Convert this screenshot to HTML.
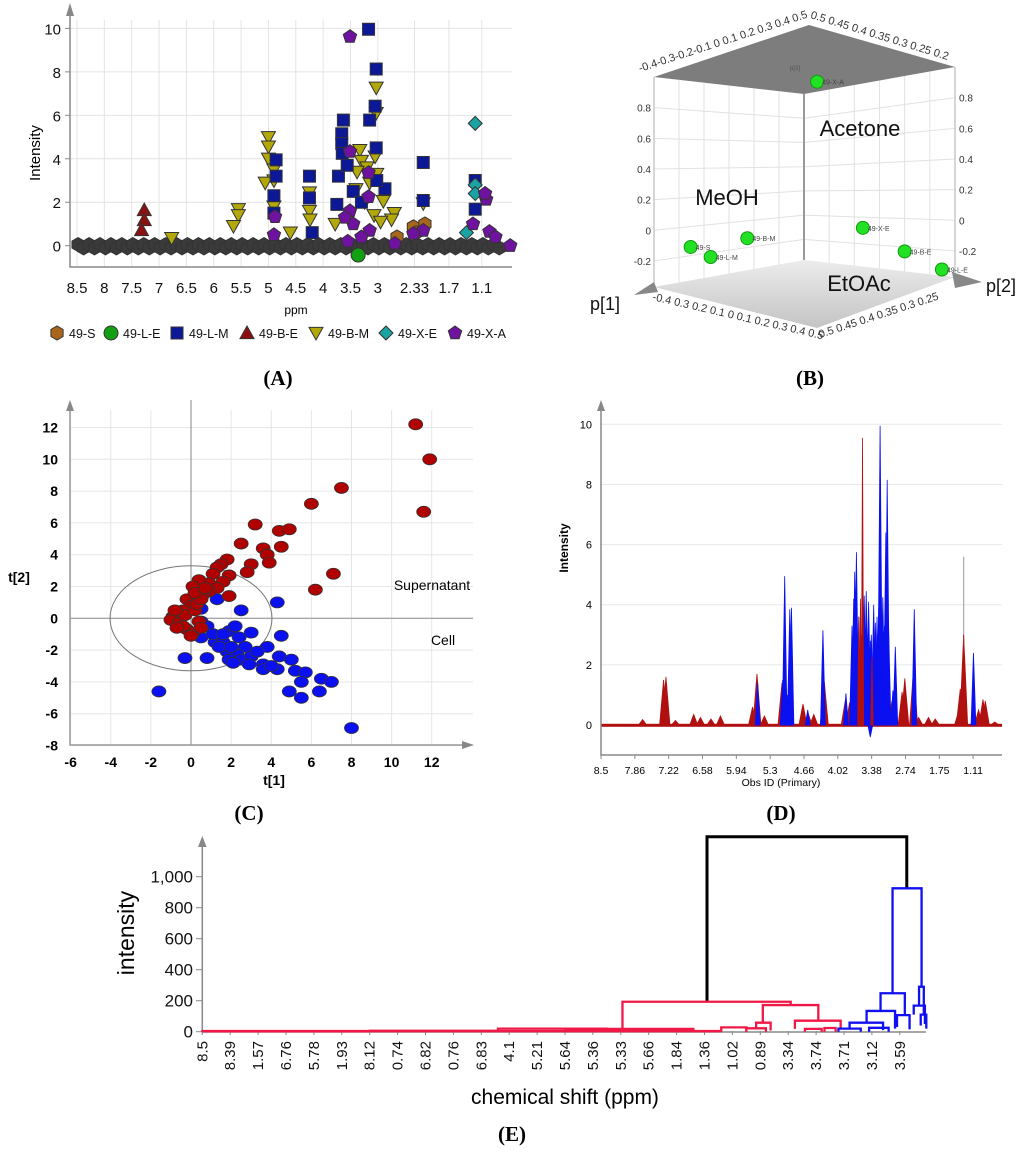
<!DOCTYPE html>
<html><head><meta charset="utf-8"><style>
html,body{margin:0;padding:0;background:#fff;}
svg{display:block;font-family:"Liberation Sans","DejaVu Sans",sans-serif;}
.lbl{font-family:"Liberation Serif",serif;font-weight:bold;font-size:21px;}
</style></head><body>
<svg id="fig" width="1024" height="1149" viewBox="0 0 1024 1149" xmlns="http://www.w3.org/2000/svg">
<g id="pa"></g>
<g id="pb"></g>
<g id="pc"></g>
<g id="pd"></g>
<g id="pe"></g>
<text class="lbl" x="278" y="385" text-anchor="middle">(A)</text>
<text class="lbl" x="810" y="385" text-anchor="middle">(B)</text>
<text class="lbl" x="249" y="820" text-anchor="middle">(C)</text>
<text class="lbl" x="781" y="820" text-anchor="middle">(D)</text>
<text class="lbl" x="512" y="1141" text-anchor="middle">(E)</text>
</svg>
<script>
// ===== Panel A data =====
const aTickLabels=['8.5','8','7.5','7','6.5','6','5.5','5','4.5','4','3.5','3','2.33','1.7','1.1'];
const aYTicks=[0,2,4,6,8,10];
const aBasePpm=[8.48,8.38,8.28,8.18,8.08,7.98,7.88,7.78,7.68,7.58,7.48,7.38,7.28,7.18,7.08,6.98,6.88,6.78,6.68,6.58,6.48,6.38,6.28,6.18,6.08,5.98,5.88,5.78,5.68,5.58,5.48,5.38,5.28,5.18,5.08,4.98,4.88,4.78,4.68,4.58,4.48,4.38,4.28,4.18,4.08,3.98,3.88,3.78,3.68,3.58,3.48,3.38,3.28,3.18,3.08,2.98,2.88,2.78,2.68,2.58,2.48,2.38,2.28,2.18,2.08,1.98,1.88,1.78,1.68,1.58,1.48,1.38,1.28,1.18,1.08,0.98,0.88,0.78,0.68,0.6];
const aBaseInt=[0.05,-0.1,0.05,-0.1,0.05,-0.1,0.05,-0.1,0.05,-0.1,0.05,-0.1,0.05,-0.1,0.05,-0.1,0.05,-0.1,0.05,-0.1,0.05,-0.1,0.05,-0.1,0.05,-0.1,0.05,-0.1,0.05,-0.1,0.05,-0.1,0.05,-0.1,0.05,-0.1,0.05,-0.1,0.05,-0.1,0.05,-0.1,0.05,-0.1,0.05,-0.1,0.05,-0.1,0.05,-0.1,0.05,-0.1,0.05,-0.1,0.05,-0.1,0.05,-0.1,0.05,-0.1,0.05,-0.1,0.05,-0.1,0.05,-0.1,0.05,-0.1,0.05,-0.1,0.05,-0.1,0.05,-0.1,0.05,-0.1,0.05,-0.1];
const aS=[[2.35,0.87],[2.14,1.0],[2.65,0.4],[2.3,0.6]];
const aLE=[[3.36,-0.43]];
const aLM=[[3.17,9.96],[3.03,8.13],[3.05,6.42],[3.15,5.78],[3.63,5.78],[3.66,5.15],[3.66,4.7],[3.65,4.25],[3.03,4.5],[2.17,3.83],[2.17,2.08],[4.25,3.2],[4.25,2.2],[4.86,3.95],[4.86,3.2],[4.9,2.3],[1.22,3.0],[1.22,1.68],[2.87,2.62],[3.72,3.2],[3.75,1.9],[3.56,3.7],[3.02,3.0],[3.45,2.5],[3.3,2.0],[4.9,1.5],[4.2,0.6]];
const aBE=[[7.27,1.64],[7.27,1.18],[7.32,0.72]];
const aBM=[[5.0,4.99],[5.0,4.56],[5.0,4.0],[4.9,3.5],[4.9,3.0],[5.06,2.9],[3.03,7.27],[3.03,6.1],[3.05,4.1],[3.33,4.4],[3.3,3.9],[3.2,3.6],[3.38,3.4],[3.15,2.9],[3.02,3.3],[2.9,2.05],[2.7,1.5],[2.75,1.2],[2.17,1.95],[4.25,2.45],[4.25,1.6],[4.24,1.2],[5.55,1.68],[5.55,1.4],[5.64,0.9],[4.9,1.8],[3.78,1.0],[3.24,2.0],[3.07,1.4],[6.77,0.35],[4.6,0.6],[3.4,2.6],[2.95,1.1]];
const aXE=[[1.22,5.63],[1.22,2.8],[1.22,2.4],[1.38,0.6]];
const aXA=[[3.51,9.62],[3.51,4.33],[3.17,3.36],[3.17,2.25],[4.88,1.33],[1.02,2.13],[1.04,2.4],[2.69,0.1],[0.58,0.0],[3.51,1.6],[3.45,1.0],[3.15,0.7],[2.17,0.7],[2.35,0.55],[1.26,1.0],[0.96,0.65],[0.85,0.4],[4.9,0.5],[3.55,0.2],[3.6,1.3],[3.3,0.4]];
// ===== Panel B data =====
const bNames=['49-X-A','49-S','49-L-M','49-B-M','49-X-E','49-B-E','49-L-E'];
const bFace=['R','L','L','L','R','R','R'];
const bP1=[0.5,-0.18,-0.06,0.16,0.5,0.5,0.5];
const bP2=[0.474,0.5,0.5,0.5,0.383,0.30,0.226];
const bP3=[1.08,-0.14,-0.23,-0.13,-0.08,-0.23,-0.33];
// ===== Panel C data =====
const cXTicks=[-6,-4,-2,0,2,4,6,8,10,12];
const cYTicks=[-8,-6,-4,-2,0,2,4,6,8,10,12];
const cBlueX=[-1.6,-0.3,0.8,0.5,0.5,0.5,1.3,2.5,4.3,4.5,0.8,1.2,1.6,1.9,2.2,3.0,2.4,2.7,3.8,1.8,2.3,1.9,2.5,3.0,2.9,3.6,4.4,5.0,3.6,4.3,5.2,5.7,6.5,7.0,5.5,4.9,6.4,5.5,8.0,1.4,2.0,1.1,3.3,4.0,1.6,2.1];
const cBlueY=[-4.6,-2.5,-2.5,-1.2,-0.2,0.6,1.2,0.5,1.0,-1.1,-0.5,-1.5,-1.5,-0.8,-0.5,-0.9,-1.2,-1.8,-1.8,-2.1,-2.3,-2.6,-2.6,-2.4,-2.9,-2.9,-2.4,-2.6,-3.2,-3.2,-3.3,-3.4,-3.8,-4.0,-4.0,-4.6,-4.6,-5.0,-6.9,-1.8,-1.8,-1.0,-2.1,-3.0,-1.0,-2.8];
const cRedX=[11.2,11.9,11.6,7.5,6.0,3.2,4.4,4.9,2.5,3.6,4.5,3.8,3.9,3.0,2.8,7.1,6.2,1.8,1.5,1.3,1.1,1.9,1.6,0.9,0.4,0.1,1.3,0.9,1.9,0.6,-0.2,0.0,-0.4,-0.7,-0.9,-1.0,-0.6,-0.3,0.2,0.4,-0.2,0.1,0.5,-0.4,0.3,0.5,-0.7,0.0,-0.8,0.2,0.7];
const cRedY=[12.2,10.0,6.7,8.2,7.2,5.9,5.5,5.6,4.7,4.4,4.5,4.0,3.5,3.4,2.9,2.8,1.8,3.7,3.4,3.2,2.8,2.7,2.3,2.2,2.4,2.0,1.9,1.7,1.4,1.5,1.2,0.8,0.5,0.3,0.1,-0.1,-0.3,0.2,0.5,-0.2,-0.7,-0.9,-0.6,-0.5,0.9,1.2,-0.6,-1.1,0.5,1.6,1.9];
// ===== Panel D data =====
const dTickLabels=['8.5','7.86','7.22','6.58','5.94','5.3','4.66','4.02','3.38','2.74','1.75','1.11'];
const dYTicks=[0,2,4,6,8,10];
const dRedPos=[1.23,1.85,1.92,2.2,2.74,2.94,3.25,3.53,4.48,4.61,4.83,5.35,5.97,6.12,6.29,6.6,7.22,7.35,8.6,8.98,8.9,9.24,9.39,9.68,9.88,10.57,10.72,10.62,11.16,11.29,11.36,11.64];
const dRedVal=[0.18,1.5,1.6,0.15,0.35,0.25,0.2,0.3,0.6,1.7,0.3,1.4,0.7,0.4,0.35,1.45,0.8,0.75,0.8,1.55,1.1,1.9,0.25,0.25,0.2,0.45,3.0,1.2,0.5,0.85,0.8,0.1];
const dRedTopPos=[7.62,7.67,7.73,8.01];
const dRedTopVal=[3.6,4.2,9.55,2.25];
const dGrayPos=[10.72];
const dGrayVal=[5.6];
const dBluePos=[4.63,5.37,5.43,5.5,5.58,5.63,6.11,6.56,7.24,7.42,7.47,7.5,7.55,7.57,7.62,7.7,7.78,7.81,7.84,7.91,7.96,7.99,8.06,8.11,8.16,8.18,8.21,8.25,8.28,8.33,8.35,8.38,8.42,8.46,8.5,8.63,8.7,9.26,11.01,7.96];
const dBlueVal=[1.4,1.5,4.95,1.0,3.85,3.9,0.5,3.15,1.05,3.3,4.2,5.1,5.75,3.0,3.6,3.0,4.3,3.2,4.45,4.1,2.8,3.0,4.0,3.4,3.6,3.0,3.9,9.95,3.5,4.25,3.1,3.3,6.4,8.15,3.3,1.15,2.6,3.85,2.4,-0.4];
// ===== Panel E data =====
const eTickLabels=['8.5','8.39','1.57','6.76','5.78','1.93','8.12','0.74','6.82','0.76','6.83','4.1','5.21','5.64','5.36','5.33','5.66','1.84','1.36','1.02','0.89','3.34','3.74','3.71','3.12','3.59'];
const eYTicks=[0,200,400,600,800,1000];
const eLinkL=[18.09,15.06,20.09,19.85,21.24,0,6.0,10.6,13.0,18.6,19.5,21.6,22.3,24.74,24.31,23.81,23.2,25.69,25.5,24.9,22.8,23.9,25.75];
const eLinkR=[25.25,21.09,22.08,20.37,22.88,6.0,10.6,14.5,17.6,19.5,20.2,22.2,22.7,25.78,25.18,24.83,24.4,25.86,25.9,25.35,23.6,24.6,25.95];
const eLinkH=[1258,193,172,58,71,3,6,20,18,28,22,18,24,925,248,134,58,290,168,107,20,25,110];
const eLinkHL=[193,12,58,20,18,0,3,6,8,0,0,0,0,248,134,58,20,168,110,30,0,0,40];
const eLinkHR=[925,172,71,8,20,0,3,6,8,0,0,0,0,290,107,20,10,110,50,15,0,0,20];
const eLinkC=['k','r','r','r','r','r','r','r','r','r','r','r','r','b','b','b','b','b','b','b','b','b','b'];

const NS='http://www.w3.org/2000/svg';
function mk(tag,attrs,parent){const e=document.createElementNS(NS,tag);for(const k in attrs)e.setAttribute(k,attrs[k]);parent.appendChild(e);return e;}
function txt(str,attrs,parent){const e=mk('text',attrs,parent);e.textContent=str;return e;}

// ================= PANEL A =================
(function(){
const g=document.getElementById('pa');
const xA=p=>77+(8.5-p)*54.7, yA=v=>245.7-v*21.73;
aTickLabels.forEach(l=>{const x=xA(parseFloat(l));
 const gl=mk('line',{x1:x,y1:20,x2:x,y2:266,stroke:'#e4e4e4','stroke-width':1},g);
 
 
 const t=txt(l,{x:x,y:293,'font-size':15,'text-anchor':'middle',fill:'#111'},g);
 
 
});
aYTicks.forEach(v=>{const y=yA(v);
 const gl=mk('line',{x1:70,y1:y,x2:512,y2:y,stroke:'#e4e4e4','stroke-width':1},g);
 
 
 const t=txt(String(v),{x:61,y:y+6,'font-size':15,'text-anchor':'end',fill:'#111'},g);
 
 
 const tk=mk('line',{x1:65,y1:y,x2:70,y2:y,stroke:'#888'},g);
 
 
});
const ax=mk('path',{d:'M70 12 V267 H512',fill:'none',stroke:'#888','stroke-width':1.5},g);


const ar=mk('path',{d:'M66 16 L70 3 L74 16 Z',fill:'#888'},g);


const yt=txt('Intensity',{x:0,y:0,'font-size':15,'text-anchor':'middle',transform:'translate(40,153) rotate(-90)'},g);


const xt=txt('ppm',{x:296,y:314,'font-size':12,'text-anchor':'middle'},g);


function shape(type,cx,cy,s,fill,parent){
 let e;const r=s/2;
 if(type==='hex'){let pts=[];for(let i=0;i<6;i++){const a=Math.PI/3*i+Math.PI/6;pts.push((cx+r*Math.cos(a)).toFixed(1)+','+(cy+r*Math.sin(a)).toFixed(1));}e=mk('polygon',{points:pts.join(' ')},parent);}
 else if(type==='circle'){e=mk('circle',{cx:cx,cy:cy,r:r},parent);}
 else if(type==='square'){e=mk('rect',{x:cx-r,y:cy-r,width:s,height:s},parent);}
 else if(type==='tri'){e=mk('polygon',{points:`${cx},${cy-r} ${cx+r},${cy+r*0.8} ${cx-r},${cy+r*0.8}`},parent);}
 else if(type==='itri'){e=mk('polygon',{points:`${cx-r},${cy-r*0.8} ${cx+r},${cy-r*0.8} ${cx},${cy+r}`},parent);}
 else if(type==='diam'){e=mk('polygon',{points:`${cx},${cy-r} ${cx+r},${cy} ${cx},${cy+r} ${cx-r},${cy}`},parent);}
 else {let pts=[];for(let i=0;i<5;i++){const a=-Math.PI/2+2*Math.PI/5*i;pts.push((cx+r*Math.cos(a)).toFixed(1)+','+(cy+r*Math.sin(a)).toFixed(1));}e=mk('polygon',{points:pts.join(' ')},parent);}
 e.setAttribute('fill',fill);e.setAttribute('stroke','#333');e.setAttribute('stroke-width',1);
 return e;
}
aBasePpm.forEach((p,i)=>{const m=shape('hex',xA(p),yA(aBaseInt[i]),14,'#3a3a3a',g);
 
 });
const series=[['49-S',aS,'hex','#a8661c'],['49-L-E',aLE,'circle','#12a012'],['49-B-E',aBE,'tri','#8b1010'],['49-B-M',aBM,'itri','#b3a80a'],['49-L-M',aLM,'square','#0c1896'],['49-X-E',aXE,'diam','#1aa3a3'],['49-X-A',aXA,'pent','#7012a0']];
series.forEach(s=>{s[1].forEach(d=>{const m=shape(s[2],xA(d[0]),yA(d[1]),s[2]==='square'?12:14,s[3],g);
 
 });});
const legOrder=[['49-S','hex','#a8661c',57],['49-L-E','circle','#12a012',111],['49-L-M','square','#0c1896',177],['49-B-E','tri','#8b1010',247],['49-B-M','itri','#b3a80a',316],['49-X-E','diam','#1aa3a3',386],['49-X-A','pent','#7012a0',455]];
legOrder.forEach(l=>{const m=shape(l[1],l[3],333,l[1]==='square'?12:14,l[2],g);
 
 
 const t=txt(l[0],{x:l[3]+12,y:338,'font-size':12.5,fill:'#111'},g);
 
 });
})();

// ================= PANEL B =================
(function(){
const g=document.getElementById('pb');
const top=mk('polygon',{points:'654,77 809,25 955,67 804,94',fill:'#7d7d7d'},g);


const defs=mk('defs',{},g);
const lg=mk('linearGradient',{id:'fl',x1:0,y1:0,x2:0,y2:1},defs);
mk('stop',{offset:0,'stop-color':'#ececec'},lg);mk('stop',{offset:1,'stop-color':'#c4c4c4'},lg);
const fl=mk('polygon',{points:'654,287 804,260 955,277 817,328',fill:'url(#fl)'},g);


for(let i=1;i<6;i++){const t=i/6;
 const l=mk('line',{x1:654+150*t,y1:77+17*t,x2:654+150*t,y2:287-27*t,stroke:'#e2e2e2'},g);
 
 
 const r=mk('line',{x1:804+151*t,y1:94-27*t,x2:804+151*t,y2:260+17*t,stroke:'#e2e2e2'},g);
 
 }
const zl=[0.8,0.6,0.4,0.2,0,-0.2];
const pl=p3=>(1-p3)/1.37;
zl.forEach(v=>{const f=pl(v);
 const y0=77+210*f, y1=94+166*f, y2=67+210*f;
 const l=mk('polyline',{points:`654,${y0} 804,${y1} 955,${y2}`,fill:'none',stroke:'#e2e2e2'},g);
 
 
 const t1=txt(String(v),{x:651,y:y0+4,'font-size':10,'text-anchor':'end',fill:'#333'},g);
 
 
 const t2=txt(String(v),{x:959,y:y2+4,'font-size':10,fill:'#333'},g);
 
 });
const edges=mk('path',{d:'M654 77 V287 M804 94 V260 M955 67 V277',stroke:'#bbb','stroke-width':1.2,fill:'none'},g);


const ce=mk('line',{x1:804,y1:94,x2:804,y2:260,stroke:'#999','stroke-width':2},g);


const a1=mk('polygon',{points:'634,295 654,282 658,292',fill:'#888'},g);


const a2=mk('polygon',{points:'982,282 952,272 955,288',fill:'#888'},g);


const lab=[['-0.4-0.3-0.2-0.1  0  0.1 0.2 0.3 0.4 0.5',640,72,-18],['0.5 0.45 0.4 0.35 0.3 0.25 0.2',810,18,17],['-0.4 0.3 0.2 0.1  0 0.1 0.2 0.3 0.4 0.5',652,300,13],['0.5 0.45 0.4 0.35 0.3 0.25',820,338,-18]];
lab.forEach(l=>{const t=txt(l[0],{x:0,y:0,'font-size':11,fill:'#333',transform:`translate(${l[1]},${l[2]}) rotate(${l[3]})`},g);
 
 });
[['MeOH',727,205,22],['Acetone',860,136,22],['EtOAc',859,291,22],['p[1]',605,310,18],['p[2]',1001,292,18]].forEach(l=>{
 const t=txt(l[0],{x:l[1],y:l[2],'font-size':l[3],'text-anchor':'middle',fill:'#111'},g);
 
 });
const p3t=txt('p[3]',{x:790,y:70,'font-size':6,fill:'#555'},g);


function proj(i){
 if(bFace[i]==='L'){const t=(bP1[i]+0.4)/0.9;const tp=77+17*t,bt=287-27*t;return [654+150*t,tp+(1-bP3[i])/1.37*(bt-tp)];}
 const s=(0.5-bP2[i])/0.3;const tp=94-27*s,bt=260+17*s;return [804+151*s,tp+(1-bP3[i])/1.37*(bt-tp)];}
bNames.forEach((n,i)=>{const p=proj(i);
 const c=mk('circle',{cx:p[0],cy:p[1],r:6.5,fill:'#22e022',stroke:'#119911','stroke-width':1},g);
 
 
 const t=txt(n,{x:p[0]+5,y:p[1]+3,'font-size':7,fill:'#444'},g);
 
 });
})();

// ================= PANEL C =================
(function(){
const g=document.getElementById('pc');
const xC=v=>191+v*20.06, yC=v=>618.3-v*15.9;
cXTicks.forEach(v=>{const x=xC(v);
 const l=mk('line',{x1:x,y1:410,x2:x,y2:745,stroke:'#e6e6e6'},g);
 
 
 const t=txt(String(v),{x:x,y:767,'font-size':14,'font-weight':'bold','text-anchor':'middle'},g);
 
 });
cYTicks.forEach(v=>{const y=yC(v);
 const l=mk('line',{x1:70,y1:y,x2:473,y2:y,stroke:'#e6e6e6'},g);
 
 
 const t=txt(String(v),{x:58,y:y+5,'font-size':14,'font-weight':'bold','text-anchor':'end'},g);
 
 });
const z=mk('path',{d:`M${xC(0)} 400 V745 M70 ${yC(0)} H473`,stroke:'#999','stroke-width':1.2},g);


const ax=mk('path',{d:'M70 406 V745 H468',fill:'none',stroke:'#999','stroke-width':1.5},g);


const ar1=mk('path',{d:'M66 411 L70 400 L74 411 Z M462 741 L474 745 L462 749 Z',fill:'#888'},g);


const el=mk('ellipse',{cx:xC(0),cy:yC(0),rx:81,ry:52.5,fill:'none',stroke:'#777','stroke-width':1},g);


cBlueX.forEach((v,i)=>{const e=mk('ellipse',{cx:xC(v),cy:yC(cBlueY[i]),rx:7,ry:5.5,fill:'#0a10f0',stroke:'#333','stroke-width':0.8},g);
 
 });
cRedX.forEach((v,i)=>{const e=mk('ellipse',{cx:xC(v),cy:yC(cRedY[i]),rx:7,ry:5.5,fill:'#b00000',stroke:'#333','stroke-width':0.8},g);
 
 });
[['Supernatant',432,590],['Cell',443,645]].forEach(l=>{const t=txt(l[0],{x:l[1],y:l[2],'font-size':14,'text-anchor':'middle'},g);
 
 });
const t1=txt('t[2]',{x:19,y:582,'font-size':14,'font-weight':'bold','text-anchor':'middle'},g);


const t2=txt('t[1]',{x:274,y:785,'font-size':14,'font-weight':'bold','text-anchor':'middle'},g);


})();

// ================= PANEL D =================
(function(){
const g=document.getElementById('pd');
const xD=u=>601+u*33.83, yD=v=>725-v*30.07;
dYTicks.forEach(v=>{const y=yD(v);
 const l=mk('line',{x1:601,y1:y,x2:1002,y2:y,stroke:'#e8e8e8'},g);
 
 
 const t=txt(String(v),{x:592,y:y+4,'font-size':11,'text-anchor':'end'},g);
 
 });
dTickLabels.forEach((l,i)=>{const x=xD(i);
 const t=txt(l,{x:x,y:774,'font-size':10.5,'text-anchor':'middle'},g);
 
 
 const tk=mk('line',{x1:x,y1:755,x2:x,y2:759,stroke:'#888'},g);
 
 });
function peak(u,v,w,col,name){const x=xD(u);
 const p=mk('polygon',{points:`${x-w},${yD(0)} ${x},${yD(v)} ${x+w},${yD(0)}`,fill:col,stroke:col,'stroke-width':0.8},g);
 
 }
const base=mk('rect',{x:601,y:yD(0.04),width:401,height:3,fill:'#b01010'},g);


dRedPos.forEach((u,i)=>peak(u,dRedVal[i],4,'#b01010','d-red-peak'));
dBluePos.forEach((u,i)=>peak(u,dBlueVal[i],2.4,'#0a10f0','d-blue-peak'));
dRedTopPos.forEach((u,i)=>peak(u,dRedTopVal[i],1.2,'#b01010','d-red-peak-top'));
dGrayPos.forEach((u,i)=>{const x=xD(u);const l=mk('line',{x1:x,y1:yD(0),x2:x,y2:yD(dGrayVal[i]),stroke:'#aaa','stroke-width':1.2},g);
 
 });
dGrayPos.forEach((u,i)=>peak(u,3.0,1.5,'#b01010','d-red-peak-top'));
const ax=mk('path',{d:'M601 406 V755 H1002',fill:'none',stroke:'#888','stroke-width':1.5},g);


const ar=mk('path',{d:'M597 411 L601 400 L605 411 Z',fill:'#888'},g);


const yt=txt('Intensity',{x:0,y:0,'font-size':12,'font-weight':'bold','text-anchor':'middle',transform:'translate(568,548) rotate(-90)'},g);


const xt=txt('Obs ID (Primary)',{x:781,y:786,'font-size':10.5,'text-anchor':'middle'},g);


})();

// ================= PANEL E =================
(function(){
const g=document.getElementById('pe');
const xE=u=>202.3+u*27.9, yE=h=>1031.7-h*0.155;
eYTicks.forEach(v=>{const y=yE(v);
 const t=txt(v===1000?'1,000':String(v),{x:193,y:y+6,'font-size':17,'text-anchor':'end',fill:'#111'},g);
 
 
 const tk=mk('line',{x1:196,y1:y,x2:202,y2:y,stroke:'#888'},g);
 
 });
eTickLabels.forEach((l,i)=>{const x=xE(i);
 const t=txt(l,{x:0,y:0,'font-size':15,'text-anchor':'end',fill:'#111',transform:`translate(${x+5},${1041}) rotate(-90)`},g);
 
 
 const tk=mk('line',{x1:x,y1:1031,x2:x,y2:1035,stroke:'#888'},g);
 
 });
const ax=mk('path',{d:'M202.3 842 V1032 H926',fill:'none',stroke:'#888','stroke-width':1.5},g);


const ar=mk('path',{d:'M198 847 L202.3 836 L206.6 847 Z',fill:'#888'},g);


const base=mk('line',{x1:202.3,y1:yE(4),x2:xE(18.6),y2:yE(4),stroke:'#f01846','stroke-width':2.5},g);


const cols={k:'#000',r:'#f01846',b:'#1010f0'};
eLinkL.forEach((uL,i)=>{const uR=eLinkR[i],h=eLinkH[i];
 const p=mk('path',{d:`M${xE(uL)} ${yE(eLinkHL[i])} V${yE(h)} H${xE(uR)} V${yE(eLinkHR[i])}`,fill:'none',stroke:cols[eLinkC[i]],'stroke-width':eLinkC[i]==='k'?3:2.3},g);
 
 });
const yt=txt('intensity',{x:0,y:0,'font-size':23,'text-anchor':'middle',transform:'translate(134,933) rotate(-90)'},g);


const xt=txt('chemical shift (ppm)',{x:565,y:1104,'font-size':21,'text-anchor':'middle'},g);


})();
</script>
</body></html>
